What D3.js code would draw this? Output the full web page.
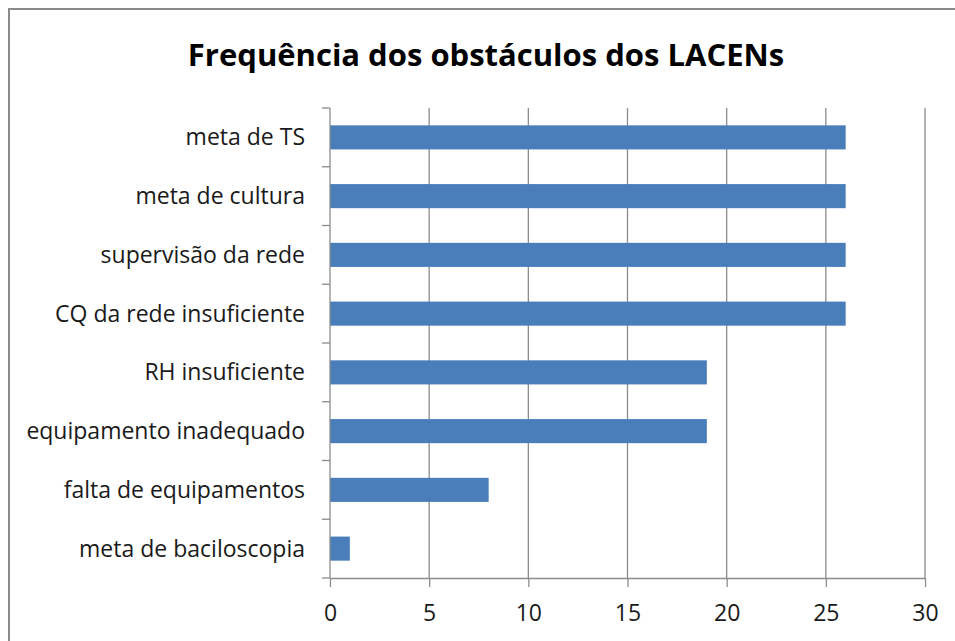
<!DOCTYPE html>
<html><head><meta charset="utf-8">
<script src="https://cdn.jsdelivr.net/npm/d3@7"></script>
<style>html,body{margin:0;padding:0;background:#fff;overflow:hidden}</style>
</head><body>
<script>
const categories = ["meta de TS","meta de cultura","supervisão da rede","CQ da rede insuficiente","RH insuficiente","equipamento inadequado","falta de equipamentos","meta de baciloscopia"];
const values = [26,26,26,26,19,19,8,1];
const xTicks = [0,5,10,15,20,25,30];
const title = "Frequência dos obstáculos dos LACENs";

const W = 955, H = 641;
const svg = d3.select("body").append("svg").attr("width", W).attr("height", H);
svg.append("rect").attr("width", W).attr("height", H).attr("fill", "#fff");
// chart border (extends past right/bottom edges)
svg.append("rect").attr("x", 9).attr("y", 9).attr("width", W + 20).attr("height", H + 20)
  .attr("fill", "none").attr("stroke", "#8a8a8a").attr("stroke-width", 2);

const pLeft = 330, pRight = 925, pTop = 108, pBottom = 578;
const x = d3.scaleLinear().domain([0, 30]).range([pLeft, pRight]);
const y = d3.scaleBand().domain(categories).range([pTop, pBottom]).paddingInner(0.59).paddingOuter(0.295);
const font = "'Open Sans', 'Noto Sans', sans-serif";

// gridlines
svg.append("g").selectAll("line").data(xTicks.filter(d => d > 0)).join("line")
  .attr("x1", d => x(d)).attr("x2", d => x(d)).attr("y1", pTop).attr("y2", pBottom)
  .attr("stroke", "#8c8c8c").attr("stroke-width", 1.3);

// bars
svg.append("g").selectAll("rect").data(values).join("rect")
  .attr("x", x(0)).attr("y", (d, i) => y(categories[i]))
  .attr("width", d => x(d) - x(0)).attr("height", y.bandwidth())
  .attr("fill", "#4a7ebb");

// x axis
const xAxis = d3.axisBottom(x).tickValues(xTicks).tickSize(9).tickPadding(18).tickSizeOuter(0);
const gx = svg.append("g").attr("transform", `translate(0,${pBottom})`).call(xAxis);
gx.select(".domain").attr("stroke", "#8c8c8c").attr("stroke-width", 1.3);
gx.selectAll(".tick line").attr("stroke", "#8c8c8c").attr("stroke-width", 1.3);
gx.selectAll(".tick text").attr("font-family", font).attr("font-size", 23).attr("fill", "#1a1a1a");

// y axis: category boundary ticks
const yAxisLine = svg.append("g");
yAxisLine.append("line").attr("x1", pLeft).attr("x2", pLeft).attr("y1", pTop).attr("y2", pBottom)
  .attr("stroke", "#8c8c8c").attr("stroke-width", 1.3);
const step = (pBottom - pTop) / categories.length;
yAxisLine.selectAll("line.t").data(d3.range(categories.length + 1)).join("line").attr("class", "t")
  .attr("x1", pLeft - 8).attr("x2", pLeft).attr("y1", i => pTop + i * step).attr("y2", i => pTop + i * step)
  .attr("stroke", "#8c8c8c").attr("stroke-width", 1.3);
svg.append("g").selectAll("text").data(categories).join("text")
  .attr("x", 305).attr("y", d => y(d) + y.bandwidth() / 2).attr("dy", "0.35em")
  .attr("text-anchor", "end").attr("font-family", font).attr("font-size", 23).attr("fill", "#1a1a1a")
  .text(d => d);

// title
svg.append("text").attr("x", 486).attr("y", 55).attr("dy", "0.35em").attr("text-anchor", "middle")
  .attr("font-family", font).attr("font-weight", "bold").attr("font-size", 31).attr("fill", "#000")
  .text(title);
</script>
</body></html>
